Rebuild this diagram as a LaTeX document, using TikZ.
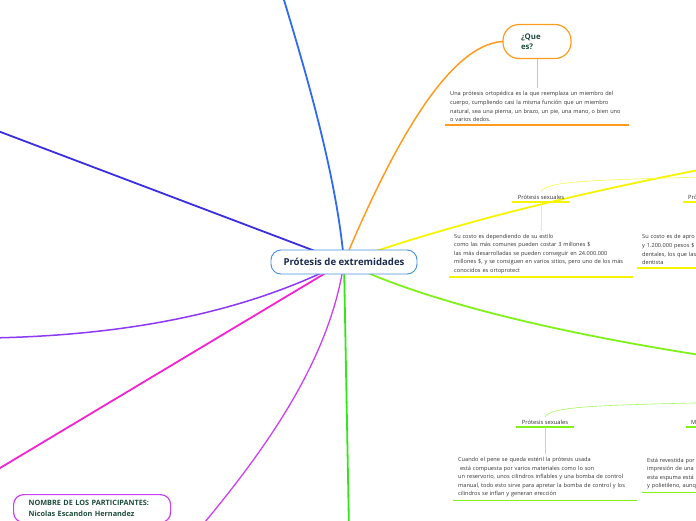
\documentclass[tikz,border=0pt]{standalone}
\usepackage{fontspec}
\setmainfont{Open Sans}
\usetikzlibrary{calc}
\pgfdeclarelayer{bg}
\pgfsetlayers{bg,main}
\definecolor{cblue}{HTML}{4A90D9}
\definecolor{cnavy}{HTML}{1B2A4E}
\definecolor{corange}{HTML}{FF9C1F}
\definecolor{cyellow}{HTML}{F5F500}
\definecolor{clime}{HTML}{80F21A}
\definecolor{cgreen}{HTML}{33E61A}
\definecolor{cbluebr}{HTML}{2E6BF0}
\definecolor{cindigo}{HTML}{3A2EE0}
\definecolor{cviolet}{HTML}{8C38F5}
\definecolor{cmagenta}{HTML}{F522D0}
\definecolor{cpurple}{HTML}{CC3FF2}
\definecolor{ctxt}{HTML}{333333}
\definecolor{cdkgreen}{HTML}{1E4D3B}
\begin{document}
\begin{tikzpicture}[x=1pt,y=-1pt,
  branch/.style={line width=1.8pt, line cap=round},
  smalltext/.style={font=\fontsize{5.6}{8.6}\selectfont, text=ctxt, align=left, anchor=south west, inner xsep=5pt, inner ysep=3pt},
  heading/.style={font=\fontsize{5.8}{7}\selectfont, text=ctxt, inner ysep=2.5pt},
  uline/.style={line width=1.6pt},
  thinline/.style={line width=0.6pt}]
\useasboundingbox (0,0) rectangle (696,520);
\clip (0,0) rectangle (696,520);

% off-canvas ends
\coordinate (bend) at (281,-10);
\coordinate (iend) at (-10,128);
\coordinate (yend) at (735,163);
\coordinate (yend2) at (740,176);
\coordinate (lend) at (740,361);
\coordinate (lend2) at (740,402);
\coordinate (gend) at (349,530);
\coordinate (vend) at (-10,338);
\coordinate (mend) at (-10,474);
\coordinate (pend) at (200,528);

% central node
\node[draw=cblue, line width=0.9pt, fill=white, rounded corners=10pt,
  minimum width=146pt, minimum height=24pt,
  font=\fontsize{9.6}{12}\selectfont\bfseries, text=cnavy] (c) at (344,262) {Prótesis de extremidades};

% Que es
\node[draw=corange, line width=1.2pt, rounded corners=16pt, minimum width=68pt, minimum height=34pt,
  text width=32pt, align=left, font=\fontsize{7.8}{9.5}\selectfont\bfseries, text=cdkgreen] (que) at (537,41.5) {¿Que\\es?};
\node[smalltext, text width=174pt] (queT) at (445,125)
 {Una prótesis ortopédica es la que reemplaza un miembro del\\cuerpo, cumpliendo casi la misma función que un miembro\\natural, sea una pierna, un brazo, un pie, una mano, o bien uno\\o varios dedos.};
\draw[uline, corange] (queT.south west) -- (queT.south east);
\draw[thinline, corange!70] (que.south) -- (que.south |- queT.north);

% yellow children
\node[heading, minimum width=57pt, anchor=south] (ys1) at (541,202) {Prótesis sexuales};
\draw[uline, cyellow] (ys1.south west) -- (ys1.south east);
\node[smalltext, text width=174pt] (ys1T) at (449,277)
 {Su costo es dependiendo de su estilo\\como las más comunes pueden costar 3 millones \$\\las más desarrolladas se pueden conseguir en 24.000.000\\millones \$, y se consiguen en varios sitios, pero uno de los más\\conocidos es ortoprotect};
\draw[uline, cyellow] (ys1T.south west) -- (ys1T.south east);
\draw[thinline, cyellow!70] (ys1.south) -- (ys1.south |- ys1T.north);

\node[heading, anchor=south west, inner xsep=5pt, text width=30pt, align=left] (ys2) at (683,202) {Pró};
\draw[uline, cyellow] (ys2.south west) -- (ys2.south east);
\node[smalltext, text width=100pt] (ys2T) at (637,268)
 {Su costo es de apro\\y 1.200.000 pesos \$\\dentales, los que las\\dentista};
\draw[uline, cyellow] (ys2T.south west) -- (ys2T.south east);

% lime children
\node[heading, minimum width=57pt, anchor=south] (ls1) at (545,427) {Prótesis sexuales};
\draw[uline, clime] (ls1.south west) -- (ls1.south east);
\node[smalltext, text width=174pt] (ls1T) at (453,500.5)
 {Cuando el pene se queda estéril la prótesis usada\\\ está compuesta por varios materiales como lo son\\un reservorio, unos cilindros inflables y una bomba de control\\manual, todo esto sirve para apretar la bomba de control y los\\cilindros se inflan y generan erección};
\draw[uline, clime] (ls1T.south west) -- (ls1T.south east);
\draw[thinline, clime!70] (ls1.south) -- (ls1.south |- ls1T.north);

\node[heading, anchor=south west, inner xsep=5pt, text width=30pt, align=left] (ls2) at (686,427) {M};
\draw[uline, clime] (ls2.south west) -- (ls2.south east);
\node[smalltext, text width=100pt] (ls2T) at (642,492.5)
 {Está revestida por\\impresión de una\\esta espuma está\\y polietileno, aunq};
\draw[uline, clime] (ls2T.south west) -- (ls2T.south east);

% participants
\node[draw=cpurple, line width=1.2pt, rounded corners=10pt, anchor=north west,
  text width=127pt, inner xsep=15pt, inner ysep=6pt, align=left,
  font=\fontsize{7.3}{10.5}\selectfont\bfseries, text=cdkgreen] (names) at (13,494)
 {NOMBRE DE LOS PARTICIPANTES:\\Nicolas Escandon Hernandez};

% branches
\begin{pgfonlayer}{bg}
\draw[branch, cbluebr] (c.center) .. controls (336,170) and (302,60) .. (bend);
\draw[branch, cindigo] (c.center) -- (iend);
\draw[branch, corange, line width=1.5pt] (c.center) .. controls (395,140) and (450,45) .. (que.west);
\draw[branch, cyellow] (c.center) .. controls (440,228) and (560,196) .. (yend);
\draw[thinline, cyellow!70] (ys1.north) .. controls (545,180) and (600,180) .. (yend2);
\draw[branch, clime] (c.center) .. controls (420,300) and (560,335) .. (lend);
\draw[thinline, clime!70] (ls1.north) .. controls (550,406) and (600,405) .. (lend2);
\draw[branch, cgreen] (c.center) -- (gend);
\draw[branch, cviolet, line width=1.5pt] (c.center) .. controls (260,305) and (150,335) .. (vend);
\draw[branch, cmagenta] (c.center) -- (mend);
\draw[branch, cpurple, line width=1.3pt] (c.center) .. controls (330,360) and (265,450) .. (pend);
\end{pgfonlayer}
\end{tikzpicture}
\end{document}
